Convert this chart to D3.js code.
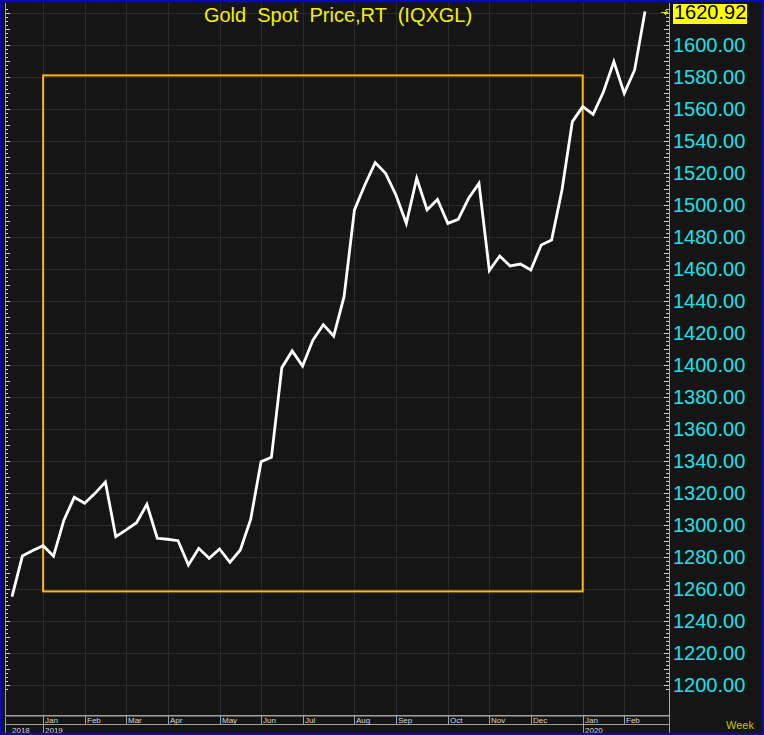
<!DOCTYPE html>
<html><head><meta charset="utf-8">
<script src="https://cdn.jsdelivr.net/npm/d3@7/dist/d3.min.js"></script>
<style>
html,body{margin:0;padding:0;background:#151515;}
svg{display:block;font-family:"Liberation Sans",Arial,sans-serif;}
</style></head>
<body>
<script>
// ---- data ----
const title = "Gold  Spot  Price,RT  (IQXGL)";
const lastLabel = "1620.92";
const weekOffsets = d3.range(-3, 59); // weekly observations, 0 = first week of Jan 2019
const prices = [1255.2, 1280.6, 1284, 1287, 1280.6, 1303, 1317.3, 1313.6, 1319.8, 1326.9,
  1292.7, 1296.9, 1301.4, 1312.9, 1291.7, 1291.1, 1290.2, 1275, 1285.4, 1279.2,
  1285, 1276.7, 1284.4, 1303.5, 1339.6, 1342.3, 1398.3, 1408.8, 1399.4, 1415.6,
  1425.2, 1418.1, 1442.7, 1496.9, 1512.5, 1526.5, 1519.8, 1506.3, 1488.5, 1516.7,
  1496.9, 1503.5, 1488.5, 1491, 1504.2, 1513.5, 1459, 1468.1, 1461.9, 1463.1,
  1459.4, 1475, 1478.1, 1509.4, 1552.1, 1561.5, 1556.7, 1570.8, 1589.6, 1569.8,
  1584.4, 1620.92];
const monthLabels = ["Jan","Feb","Mar","Apr","May","Jun","Jul","Aug","Sep","Oct","Nov","Dec","Jan","Feb"];
const monthWeeks = [0,4,8,12,17,21,25,30,34,39,43,47,52,56];
const yearLabels = ["2018","2019","2020"];
const yearWeeks = [-3,0,52];
const yTicks = d3.range(1200, 1621, 20);
const boxWeeks = [0, 52];
const boxPrices = [1258.5, 1581];

// ---- layout ----
const W = 764, H = 735;
const plotL = 5, plotR = 669, plotT = 3, plotB = 715;
const x = d3.scaleLinear().domain([-3, 58]).range([12, 645]);
const y = d3.scaleLinear().domain([1200, 1600]).range([685, 45]);

const svg = d3.select("body").append("svg").attr("width", W).attr("height", H);
svg.append("rect").attr("width", W).attr("height", H).attr("fill", "#151515");

// grid
const grid = svg.append("g").attr("stroke", "#2b2b2b").attr("stroke-width", 1);
grid.selectAll(".h").data(yTicks).join("line")
  .attr("x1", plotL).attr("x2", plotR)
  .attr("y1", d => Math.round(y(d)) + 0.5).attr("y2", d => Math.round(y(d)) + 0.5);
grid.selectAll(".v").data(monthWeeks).join("line")
  .attr("x1", d => Math.round(x(d)) + 0.5).attr("x2", d => Math.round(x(d)) + 0.5)
  .attr("y1", plotT).attr("y2", plotB);

// minor ticks left and right
const minor = d3.range(1197.5, 1623, 2.5);
const tk = svg.append("g").attr("stroke", "#d0d0d0").attr("stroke-width", 1);
tk.selectAll(".l").data(minor).join("line")
  .attr("x1", plotL).attr("x2", d => plotL + (d % 10 === 0 ? 5 : 3))
  .attr("y1", d => Math.round(y(d)) + 0.5).attr("y2", d => Math.round(y(d)) + 0.5);
tk.selectAll(".r").data(minor).join("line")
  .attr("x1", plotR).attr("x2", d => plotR - (d % 10 === 0 ? 5 : 3))
  .attr("y1", d => Math.round(y(d)) + 0.5).attr("y2", d => Math.round(y(d)) + 0.5);

// axes lines
svg.append("line").attr("x1", plotL + 0.5).attr("x2", plotL + 0.5).attr("y1", plotT).attr("y2", H)
  .attr("stroke", "#a0a0a0");
svg.append("line").attr("x1", plotR + 0.5).attr("x2", plotR + 0.5).attr("y1", plotT).attr("y2", H)
  .attr("stroke", "#a8a8a8");
svg.append("line").attr("x1", plotL).attr("x2", plotR).attr("y1", plotB + 0.5).attr("y2", plotB + 0.5)
  .attr("stroke", "#a0a0a0");
svg.append("line").attr("x1", plotL).attr("x2", plotR).attr("y1", plotB + 1.5).attr("y2", plotB + 1.5)
  .attr("stroke", "#5a5a5a");
svg.append("line").attr("x1", plotL).attr("x2", plotR).attr("y1", 724.5).attr("y2", 724.5)
  .attr("stroke", "#a0a0a0");

// month separators & labels
svg.append("g").selectAll("line").data(monthWeeks).join("line")
  .attr("x1", d => Math.round(x(d)) + 0.5).attr("x2", d => Math.round(x(d)) + 0.5)
  .attr("y1", plotB).attr("y2", 724).attr("stroke", "#a0a0a0");
svg.append("g").selectAll("text").data(monthWeeks).join("text")
  .attr("x", d => Math.round(x(d)) + 2).attr("y", 723)
  .attr("fill", "#d8d8d8").attr("font-size", 8)
  .attr("font-family", "'Liberation Sans Narrow','Arial Narrow','Liberation Sans',sans-serif")
  .text((d, i) => monthLabels[i]);
svg.append("g").selectAll("line").data(yearWeeks.slice(1)).join("line")
  .attr("x1", d => Math.round(x(d)) + 0.5).attr("x2", d => Math.round(x(d)) + 0.5)
  .attr("y1", 724).attr("y2", H).attr("stroke", "#a0a0a0");
svg.append("g").selectAll("text").data(yearWeeks).join("text")
  .attr("x", d => Math.round(x(d)) + (d === -3 ? 0 : 2)).attr("y", 733)
  .attr("fill", "#d8d8d8").attr("font-size", 8)
  .attr("font-family", "'Liberation Sans Narrow','Arial Narrow','Liberation Sans',sans-serif")
  .text((d, i) => yearLabels[i]);

// right axis labels
svg.append("g").selectAll("text").data(yTicks.filter(d => d <= 1600)).join("text")
  .attr("x", 673).attr("y", d => y(d)).attr("dy", "0.36em")
  .attr("fill", "#1fe0e8").attr("font-size", 20)
  .text(d => d3.format(".2f")(d));

// last value box
const lastY = y(prices[prices.length - 1]);
svg.append("rect").attr("x", 673).attr("y", 4).attr("width", 74).attr("height", 20).attr("fill", "#ffff00");
svg.append("text").attr("x", 674).attr("y", lastY).attr("dy", "0.36em")
  .attr("fill", "#000").attr("font-size", 20).text(lastLabel);
// arrow marker
svg.append("path")
  .attr("d", `M${plotR - 8},${Math.round(lastY) + 0.5}H${plotR - 2}M${plotR - 4},${Math.round(lastY) - 2}L${plotR - 1},${Math.round(lastY) + 0.5}L${plotR - 4},${Math.round(lastY) + 3}`)
  .attr("stroke", "#e8e800").attr("fill", "none").attr("stroke-width", 1);

// highlight box
svg.append("rect")
  .attr("x", x(boxWeeks[0])).attr("y", y(boxPrices[1]))
  .attr("width", x(boxWeeks[1]) - x(boxWeeks[0]))
  .attr("height", y(boxPrices[0]) - y(boxPrices[1]))
  .attr("fill", "none").attr("stroke", "#ffb700").attr("stroke-width", 2);

// price line
const line = d3.line().x((d, i) => x(weekOffsets[i])).y(d => y(d));
svg.append("path").datum(prices).attr("d", line)
  .attr("fill", "none").attr("stroke", "#ffffff").attr("stroke-width", 2.8)
  .attr("stroke-linejoin", "miter");

// title
svg.append("text").attr("x", 338).attr("y", 22).attr("text-anchor", "middle")
  .attr("fill", "#f4f000").attr("font-size", 20).style("white-space", "pre")
  .attr("xml:space", "preserve").text(title);

// Week label
svg.append("text").attr("x", 740).attr("y", 729).attr("text-anchor", "middle")
  .attr("fill", "#c8c400").attr("font-size", 11).text("Week");

// blue border
svg.append("rect").attr("x", 1).attr("y", 1).attr("width", W - 2).attr("height", H - 2)
  .attr("fill", "none").attr("stroke", "#0a0ab4").attr("stroke-width", 2.5);
</script>
</body></html>
